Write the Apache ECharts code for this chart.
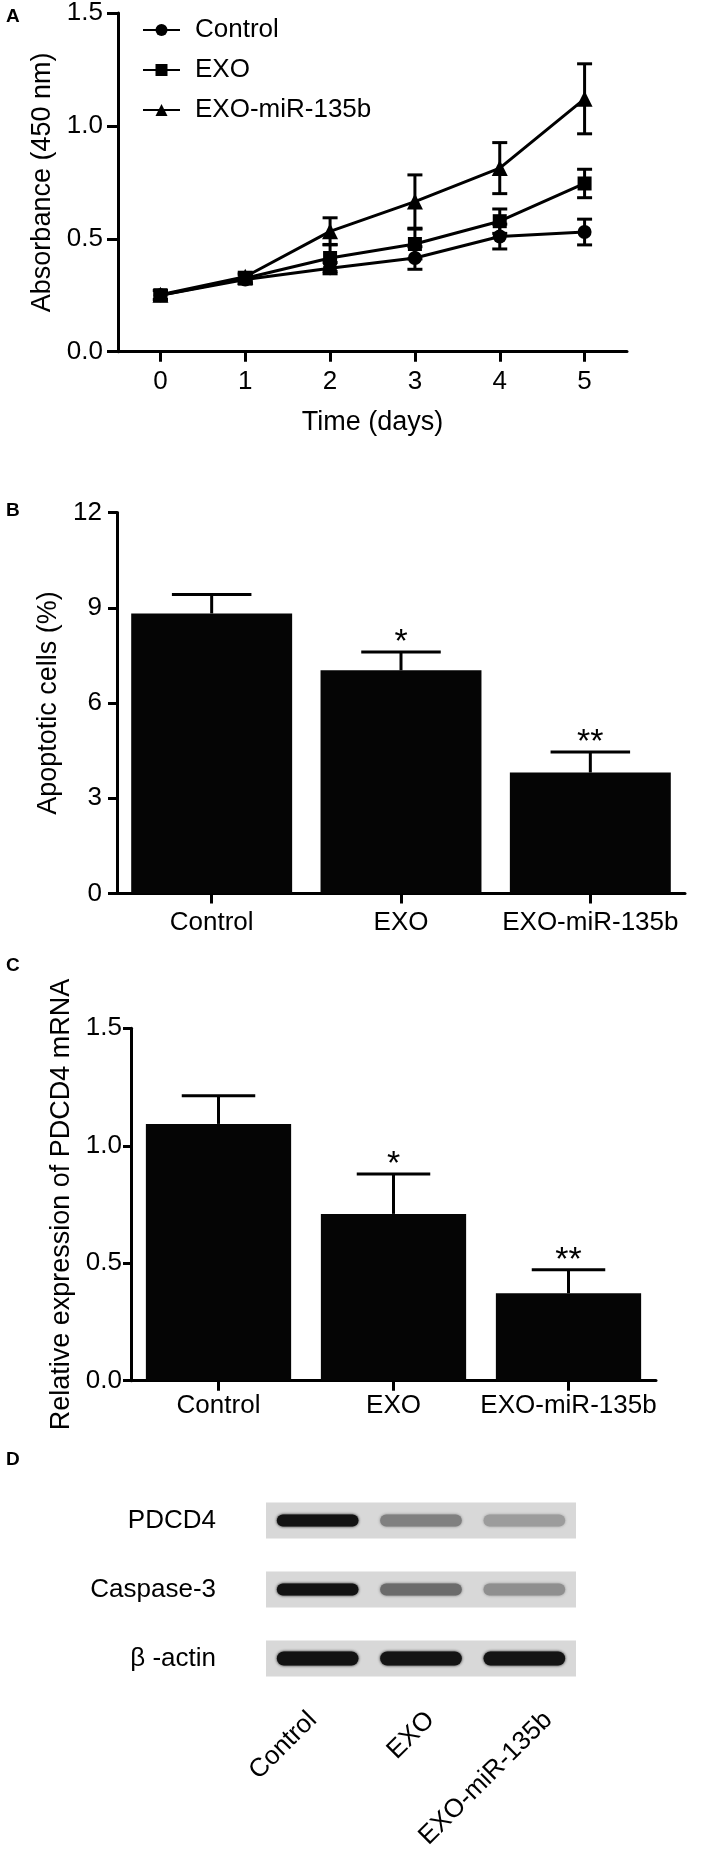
<!DOCTYPE html>
<html><head><meta charset="utf-8">
<script src="https://cdn.jsdelivr.net/npm/echarts@6/dist/echarts.min.js"></script>
<style>html,body{margin:0;padding:0;background:#fff}#c{width:709px;height:1858px}</style>
</head><body><div id="c"></div>
<script>
// ---- Panel A: absorbance over time ----
const days = ['0', '1', '2', '3', '4', '5'];
const seriesNames = ['Control', 'EXO', 'EXO-miR-135b'];
const controlMean = [0.25, 0.32, 0.37, 0.415, 0.51, 0.53];
const controlErr  = [0.02, 0.02, 0.025, 0.05, 0.055, 0.057];
const exoMean     = [0.25, 0.325, 0.415, 0.477, 0.578, 0.745];
const exoErr      = [0.02, 0.02, 0.06, 0.066, 0.054, 0.063];
const mirMean     = [0.252, 0.332, 0.533, 0.665, 0.813, 1.12];
const mirErr      = [0.02, 0.02, 0.06, 0.118, 0.113, 0.155];

// ---- Panel B: apoptotic cells ----
const groups = ['Control', 'EXO', 'EXO-miR-135b'];
const apoptosis    = [8.82, 7.03, 3.81];
const apoptosisErr = [0.60, 0.58, 0.65];
const apoptosisSig = ['', '*', '**'];

// ---- Panel C: PDCD4 mRNA ----
const pdcd4Mrna    = [1.093, 0.71, 0.372];
const pdcd4MrnaErr = [0.12, 0.17, 0.10];
const pdcd4Sig     = ['', '*', '**'];

// ---- Panel D: western blot (band density 0..1 per lane) ----
const blotProteins = ['PDCD4', 'Caspase-3', 'β -actin'];
const blotLanes    = ['Control', 'EXO', 'EXO-miR-135b'];
const pdcd4Band    = [0.93, 0.50, 0.39];
const caspaseBand  = [0.93, 0.58, 0.44];
const actinBand    = [0.93, 0.92, 0.92];
const panelLetters = ['A', 'B', 'C', 'D'];

const FONT = 'Liberation Sans, Arial, sans-serif';
const BLACK = '#000';

function errLineSeries(mean, err) {
  return {
    type: 'custom', xAxisIndex: 0, yAxisIndex: 0, silent: true, z: 2,
    data: mean.map((m, i) => [i, m - err[i], m + err[i]]),
    renderItem(params, api) {
      const x = api.value(0);
      const lo = api.coord([x, api.value(1)]);
      const hi = api.coord([x, api.value(2)]);
      const hw = 7.5;
      const st = { stroke: BLACK, lineWidth: 3, fill: null };
      return { type: 'group', children: [
        { type: 'line', shape: { x1: lo[0], y1: lo[1], x2: hi[0], y2: hi[1] }, style: st },
        { type: 'line', shape: { x1: lo[0] - hw, y1: lo[1], x2: lo[0] + hw, y2: lo[1] }, style: st },
        { type: 'line', shape: { x1: hi[0] - hw, y1: hi[1], x2: hi[0] + hw, y2: hi[1] }, style: st }
      ] };
    }
  };
}

function barErrSeries(mean, err, sig, idx) {
  return {
    type: 'custom', xAxisIndex: idx, yAxisIndex: idx, silent: true, z: 3,
    data: mean.map((m, i) => [i, m, m + err[i]]),
    renderItem(params, api) {
      const x = api.value(0);
      const base = api.coord([x, api.value(1)]);
      const top = api.coord([x, api.value(2)]);
      const hw = api.size([1, 0])[0] * 0.21;
      const st = { stroke: BLACK, lineWidth: 3, fill: null };
      return { type: 'group', children: [
        { type: 'line', shape: { x1: base[0], y1: base[1], x2: top[0], y2: top[1] }, style: st },
        { type: 'line', shape: { x1: top[0] - hw, y1: top[1], x2: top[0] + hw, y2: top[1] }, style: st },
        { type: 'text', style: { text: sig[params.dataIndex], x: top[0], y: top[1] - 9,
          align: 'center', verticalAlign: 'middle', font: '34px ' + FONT, fill: BLACK } }
      ] };
    }
  };
}

function valueAxis(gridIndex, min, max, interval, name, nameGap, tickLen, labelMargin, fmt) {
  return {
    type: 'value', gridIndex, min, max, interval,
    name, nameLocation: 'middle', nameGap, nameRotate: 90,
    nameTextStyle: { fontSize: 27, color: BLACK, fontFamily: FONT },
    axisLine: { show: true, lineStyle: { color: BLACK, width: 3 } },
    axisTick: { show: true, length: tickLen, lineStyle: { color: BLACK, width: 3 } },
    axisLabel: { fontSize: 26, color: BLACK, fontFamily: FONT, margin: labelMargin, formatter: fmt },
    splitLine: { show: false }
  };
}

function catAxis(gridIndex, data, labelMargin, extra) {
  return Object.assign({
    type: 'category', gridIndex, data, boundaryGap: true,
    axisLine: { show: true, lineStyle: { color: BLACK, width: 3 } },
    axisTick: { show: true, alignWithLabel: true, length: 10, lineStyle: { color: BLACK, width: 3 } },
    axisLabel: { fontSize: 26, color: BLACK, fontFamily: FONT, margin: labelMargin, interval: 0 },
    splitLine: { show: false }
  }, extra || {});
}

const bandRows = [pdcd4Band, caspaseBand, actinBand];
const bandData = [];
bandRows.forEach((row, r) => row.forEach((d, l) => bandData.push([l, r, d])));

const option = {
  animation: false,
  backgroundColor: '#fff',
  textStyle: { fontFamily: FONT, color: BLACK },
  title: panelLetters.map((t, i) => ({
    text: t, left: 1, top: [2, 496, 951, 1445][i],
    textStyle: { fontSize: 19, fontWeight: 'bold', color: BLACK, fontFamily: FONT }
  })),
  legend: {
    data: seriesNames, orient: 'vertical', left: 137, top: 12,
    itemWidth: 37, itemHeight: 15, itemGap: 14,
    textStyle: { fontSize: 26, color: BLACK, fontFamily: FONT, padding: [0, 0, 0, 10] }
  },
  grid: [
    { left: 118, right: 82, top: 11.7, height: 340 },
    { left: 117, right: 24, top: 512.5, height: 381 },
    { left: 131, right: 53, top: 1028.3, height: 352.4 },
    { left: 266, right: 133, top: 1486, height: 207 },
    { left: 254, right: 102, top: 1690, height: 10 }
  ],
  xAxis: [
    catAxis(0, days, 17, { name: 'Time (days)', nameLocation: 'middle', nameGap: 57,
      nameTextStyle: { fontSize: 27, color: BLACK, fontFamily: FONT } }),
    catAxis(1, groups, 16),
    catAxis(2, groups, 12),
    { type: 'category', gridIndex: 3, data: blotLanes, axisLine: { show: false },
      axisTick: { show: false }, axisLabel: { show: false }, splitLine: { show: false } },
    { type: 'category', gridIndex: 4, data: blotLanes, axisLine: { show: false },
      axisTick: { show: false }, splitLine: { show: false },
      axisLabel: { rotate: 45, margin: 16, fontSize: 26, color: BLACK, fontFamily: FONT, interval: 0 } }
  ],
  yAxis: [
    valueAxis(0, 0, 1.5, 0.5, 'Absorbance (450 nm)', 58, 11, 15, v => v.toFixed(1)),
    valueAxis(1, 0, 12, 3, 'Apoptotic cells (%)', 51, 9, 15, v => String(v)),
    valueAxis(2, 0, 1.5, 0.5, 'Relative expression of PDCD4 mRNA', 52, 8, 9, v => v.toFixed(1)),
    { type: 'category', gridIndex: 3, data: blotProteins, inverse: true,
      axisLine: { show: false }, axisTick: { show: false }, splitLine: { show: false },
      axisLabel: { fontSize: 26, color: BLACK, fontFamily: FONT, margin: 50 } },
    { type: 'value', gridIndex: 4, show: false }
  ],
  series: [
    errLineSeries(controlMean, controlErr),
    errLineSeries(exoMean, exoErr),
    errLineSeries(mirMean, mirErr),
    { name: 'Control', type: 'line', xAxisIndex: 0, yAxisIndex: 0, data: controlMean,
      symbol: 'circle', symbolSize: 14, showAllSymbol: true, z: 4,
      lineStyle: { color: BLACK, width: 3 }, itemStyle: { color: BLACK } },
    { name: 'EXO', type: 'line', xAxisIndex: 0, yAxisIndex: 0, data: exoMean,
      symbol: 'rect', symbolSize: 14, showAllSymbol: true, z: 4,
      lineStyle: { color: BLACK, width: 3 }, itemStyle: { color: BLACK } },
    { name: 'EXO-miR-135b', type: 'line', xAxisIndex: 0, yAxisIndex: 0, data: mirMean,
      symbol: 'triangle', symbolSize: 16, showAllSymbol: true, z: 4,
      lineStyle: { color: BLACK, width: 3 }, itemStyle: { color: BLACK } },

    { type: 'bar', xAxisIndex: 1, yAxisIndex: 1, data: apoptosis, barCategoryGap: '15%',
      itemStyle: { color: '#050505' }, z: 2 },
    barErrSeries(apoptosis, apoptosisErr, apoptosisSig, 1),

    { type: 'bar', xAxisIndex: 2, yAxisIndex: 2, data: pdcd4Mrna, barCategoryGap: '17%',
      itemStyle: { color: '#050505' }, z: 2 },
    barErrSeries(pdcd4Mrna, pdcd4MrnaErr, pdcd4Sig, 2),

    { type: 'custom', xAxisIndex: 3, yAxisIndex: 3, silent: true, z: 1,
      data: blotProteins.map((p, i) => [0, i]),
      renderItem(params, api) {
        const c = api.coord([0, api.value(1)]);
        const cs = params.coordSys;
        return { type: 'rect', shape: { x: cs.x, y: c[1] - 18, width: cs.width, height: 36 },
          style: { fill: '#d8d8d8' } };
      } },
    { type: 'custom', xAxisIndex: 3, yAxisIndex: 3, silent: true, z: 2,
      data: bandData,
      renderItem(params, api) {
        const c = api.coord([api.value(0), api.value(1)]);
        const w = api.size([1, 0])[0] * 0.79;
        const h = api.value(1) === 2 ? 14 : 12;
        const g = Math.round(255 * (1 - api.value(2)));
        const col = 'rgb(' + g + ',' + g + ',' + g + ')';
        return { type: 'rect', shape: { x: c[0] - w / 2, y: c[1] - h / 2, width: w, height: h, r: h / 2 },
          style: { fill: col, shadowBlur: 3, shadowColor: col } };
      } }
  ]
};

const chart = echarts.init(document.getElementById('c'), null, { renderer: 'canvas' });
chart.setOption(option);
</script>
</body></html>
